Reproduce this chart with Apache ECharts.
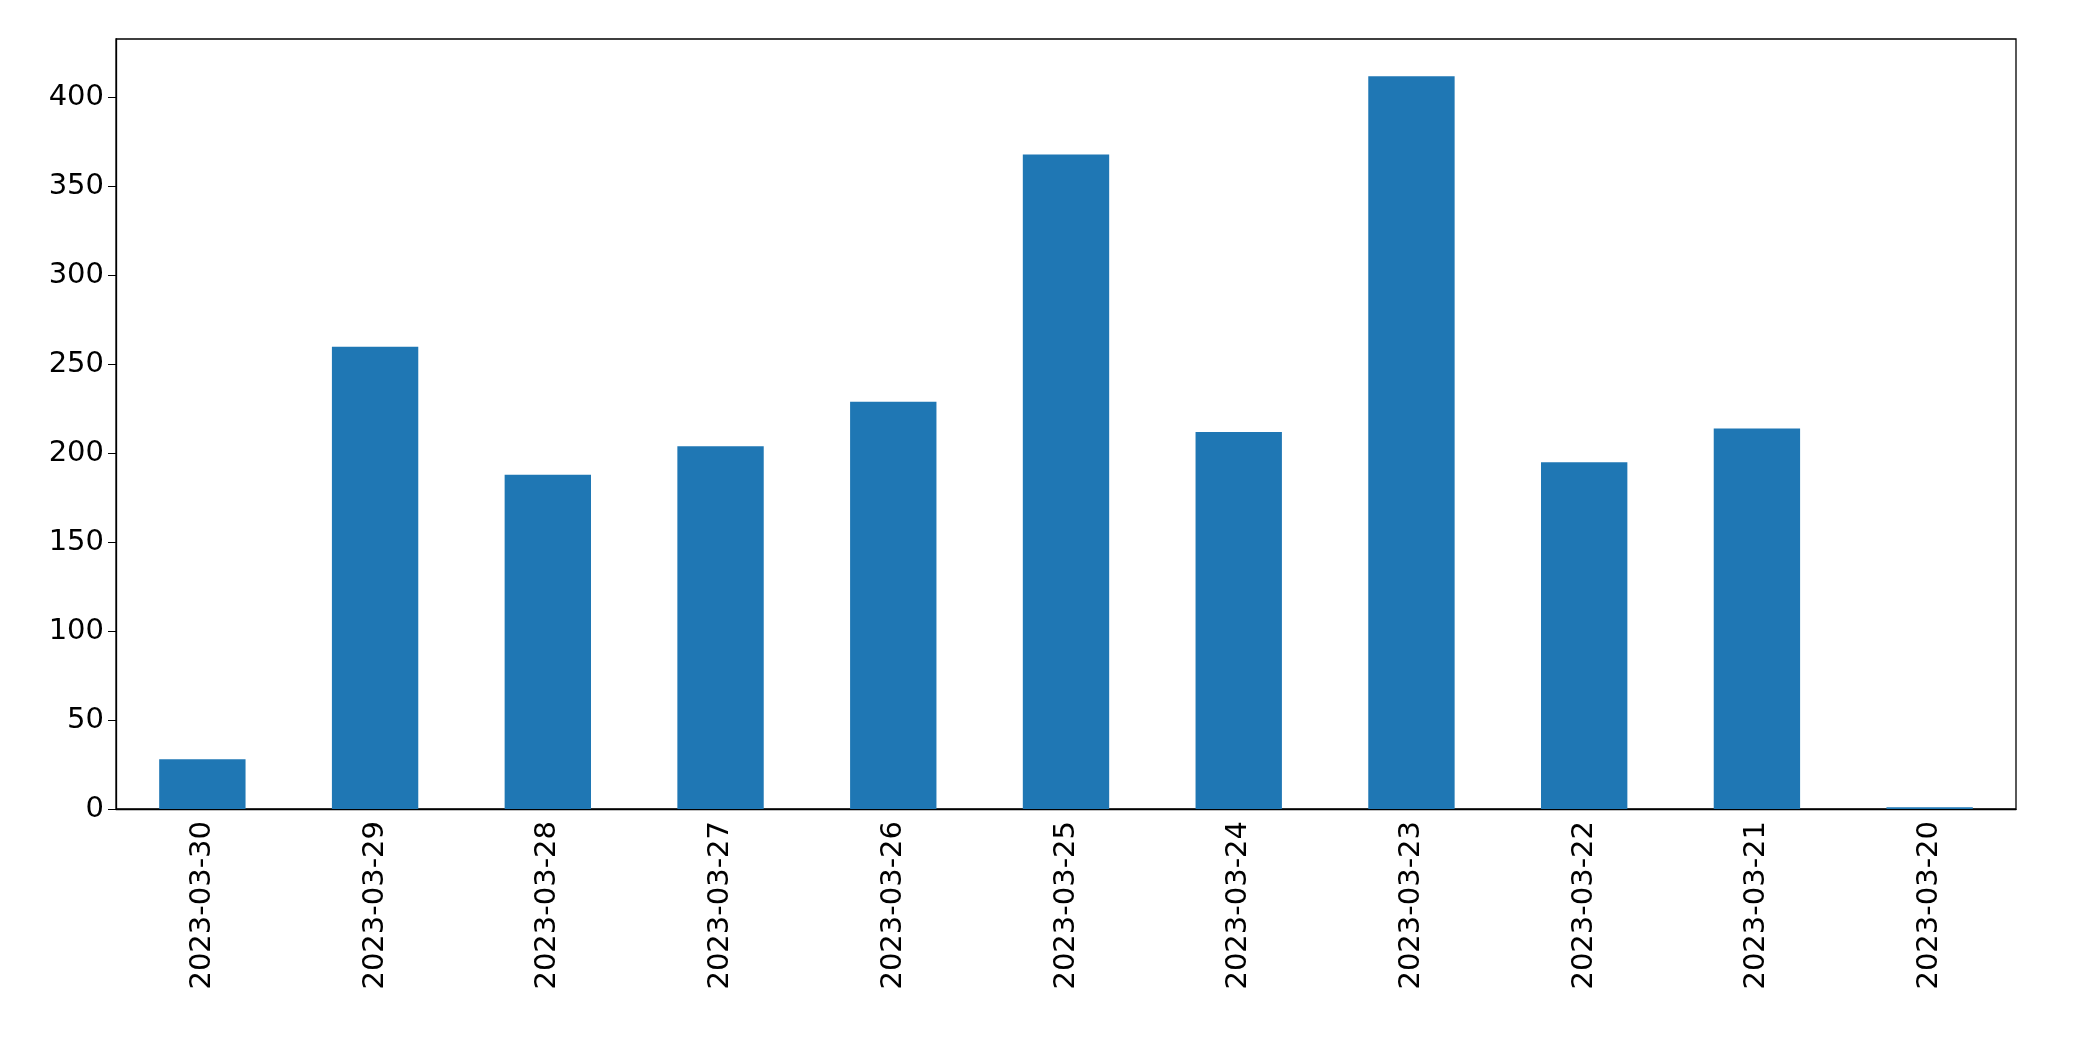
<!DOCTYPE html>
<html><head><meta charset="utf-8">
<script src="https://cdn.jsdelivr.net/npm/echarts@6/dist/echarts.min.js"></script>
<style>html,body{margin:0;padding:0;background:#fff}#c{width:2093px;height:1061px}</style>
</head><body><div id="c"></div>
<script>
const categories = ["2023-03-30","2023-03-29","2023-03-28","2023-03-27","2023-03-26","2023-03-25","2023-03-24","2023-03-23","2023-03-22","2023-03-21","2023-03-20"];
const values = [28, 260, 188, 204, 229, 368, 212, 412, 195, 214, 1];
const chart = echarts.init(document.getElementById('c'));
chart.setOption({
  animation: false,
  grid: {left: 116, right: 77, top: 39, bottom: 252, show: true, borderColor: '#000', borderWidth: 1.3},
  xAxis: {type: 'category', data: categories,
    axisLine: {lineStyle: {color: '#000', width: 1.3}},
    axisTick: {alignWithLabel: true, length: 8, lineStyle: {color: '#000'}},
    axisLabel: {rotate: 90, color: '#000', fontSize: 29, fontFamily: 'DejaVu Sans', margin: 12, interval: 0}},
  yAxis: {type: 'value', min: 0, max: 433, interval: 50,
    axisLine: {show: true, lineStyle: {color: '#000', width: 1.3}},
    axisTick: {show: true, length: 8, lineStyle: {color: '#000'}},
    splitLine: {show: false},
    axisLabel: {color: '#000', fontSize: 29, fontFamily: 'DejaVu Sans', margin: 12,
      showMaxLabel: false}},
  series: [{type: 'bar', data: values, barCategoryGap: '50%', itemStyle: {color: '#1f77b4'}}]
});
</script></body></html>
